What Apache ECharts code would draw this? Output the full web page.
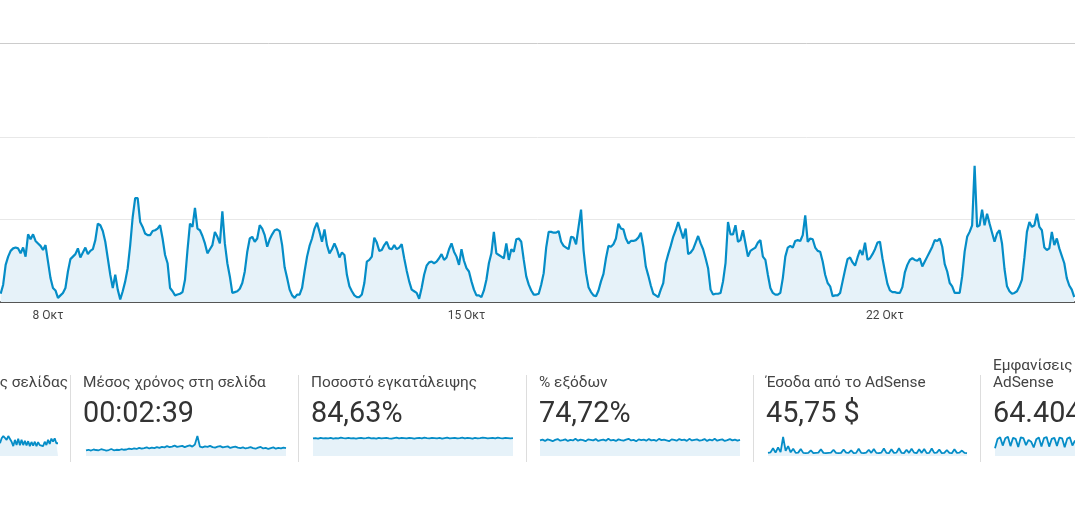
<!DOCTYPE html>
<html><head><meta charset="utf-8">
<script src="https://cdn.jsdelivr.net/npm/echarts@6/dist/echarts.min.js"></script>
<style>html,body{margin:0;padding:0;background:#fff;}#c{width:1075px;height:520px;}</style>
</head><body><div id="c"></div>
<script>
// ---- data ----
const firstHour = 5; // hours counted from 7 Oct 00:00
const pageviews = [
10,21,45,55,62,65,66,65,59,66, 55,82,76,82,74,71,68,63,69,49, 29,17,14,5,8,11,17,37,52,55,
58,65,54,60,66,58,62,64,75,95, 93,86,73,53,33,17,33,15,3,13, 25,41,69,103,126,126,97,91,83,81,
81,86,87,89,93,77,57,47,17,13, 8,9,10,
12,27,63,95,91,114,89,87,80,71, 59,64,69,85,79,71,110,71,47,31, 11,12,13,16,23,37,61,77,79,73,
77,93,89,81,67,76,82,87,88,86, 69,42,29,15,8,5,9,9,17,37, 55,68,77,89,96,85,73,88,69,59,
64,71,64,54,60,57,33,19,13,8, 6,6,
9,23,49,51,55,78,72,62,63,69, 73,65,64,69,64,66,70,53,38,25, 15,13,11,4,17,33,44,48,49,47,
49,53,58,51,54,64,71,61,55,45, 64,50,41,37,25,15,8,8,6,14, 27,47,59,85,59,57,55,53,71,51,
64,61,76,77,73,51,31,21,14,9, 9,10,
21,35,66,85,85,84,84,86,73,68, 66,64,79,78,70,91,112,63,35,18, 12,8,7,14,25,34,53,68,67,70,
77,95,89,88,77,71,74,74,75,78, 84,67,43,32,20,10,8,6,15,23, 47,58,68,79,87,97,87,77,89,58,
60,64,72,80,71,64,53,41,15,9, 10,10,
11,25,47,97,82,82,93,73,75,87, 71,55,62,64,66,72,75,55,51,33, 17,11,9,9,11,29,55,66,68,66,
74,75,74,81,105,73,77,76,66,62, 61,49,33,23,19,7,8,8,11,25, 39,52,54,48,44,54,63,57,72,51,
53,58,64,72,73,53,37,22,14,12, 12,11,
11,18,36,45,51,53,51,50,53,43, 49,55,61,67,75,74,77,67,46,37, 23,19,11,11,11,31,61,79,85,93,
165,91,93,112,93,107,95,84,73,83, 87,71,40,19,13,10,11,13,19,27, 54,85,97,91,93,107,91,87,66,63,
65,85,69,77,65,56,47,29,20,15, 6
];
const tickHours = [24, 192, 360];
const tickLabels = ['8 Οκτ', '15 Οκτ', '22 Οκτ'];

const tileTitles = ['Προβολές σελίδας', 'Μέσος χρόνος στη σελίδα', 'Ποσοστό εγκατάλειψης', '% εξόδων', 'Έσοδα από το AdSense', 'Εμφανίσεις\nAdSense'];
const tileValues = ['', '00:02:39', '84,63%', '74,72%', '45,75 $', '64.404'];

const sparkPageviews = [49,68,77,72,62,77,72,55,38,62,42,66,41,62,42,58,41,57,38,54,40,55,38,53,42,49,38,55,42,62,46,67,55,68,49,49];
const sparkTimeOnPage = [22,24,21,25,23,22,26,24,21,23,27,22,24,23,26,24,
25,28,26,29,27,31,28,30,33,29,32,30,34,31,35,
33,38,34,36,40,35,37,39,34,38,41,36,44,77,
36,33,37,35,39,34,32,36,38,33,35,37,31,34,36,32,
30,33,29,31,34,30,28,32,35,29,31,27,30,33,28,31,29,32,30];
const sparkBounce = [68,69,67,70,68,69,68,70,67,69,68,71,69,68,70,68,69,67,69,70,68,69,71,68,69,67,70,68,69,70,68,67,69,71,68,70,69,68,70,69,67,69,70,68,71,69,68,70,69,68,70,67,69,71,68,69,70,68,69,71,68,70,69,67,70,68,69,71,70,68,69,70,68,71,69,68,70,69,68,69];
const sparkExit = [60,63,58,64,61,57,62,65,59,61,64,58,62,60,66,59,63,61,57,64,62,60,65,58,61,63,59,66,60,62,58,64,61,59,63,66,60,62,57,64,61,63,59,65,60,62,58,66,61,63,60,57,64,62,59,65,61,63,58,66,60,62,64,59,61,65,58,63,60,66,59,62,64,58,61,65,60,63,59,62];
const sparkRevenue = [12,14,30,13,33,15,73,20,38,14,28,12,13,27,12,11,12,22,11,12,13,26,12,11,12,13,24,12,11,12,25,13,12,22,11,12,28,12,11,13,24,12,27,12,11,13,29,12,11,26,12,13,30,12,11,24,12,28,13,11,26,12,27,11,12,29,12,13,25,11,12,23,12,11,26,12,13,21,12,11];
const sparkImpressions = [30,65,72,40,68,74,38,70,66,35,72,69,42,62,55,33,64,71,37,69,73,36,66,70,39,71,68,34,67,72,40,60];

// ---- layout / style ----
const BLUE = '#058dc7';
const FILL = '#e6f2f9';
const sepX = [70, 298, 526, 753, 980];
const sparkBoxes = [[0, 58], [86, 200], [313, 200], [540, 200], [768, 199], [995, 80]];
const sparkData = [sparkPageviews, sparkTimeOnPage, sparkBounce, sparkExit, sparkRevenue, sparkImpressions];

const chart = echarts.init(document.getElementById('c'), null, {renderer: 'canvas'});

const grids = [{left: 0, right: 0, top: 137, height: 165}];
const xAxes = [{
  type: 'value', gridIndex: 0, min: 4.73, max: 436.3,
  axisLine: {show: true, onZero: false, lineStyle: {color: '#555', width: 2}},
  axisTick: {show: false},
  splitLine: {show: false},
  axisLabel: {
    customValues: tickHours,
    formatter: v => tickLabels[tickHours.indexOf(Math.round(v))] || '',
    color: '#444', fontSize: 12, fontFamily: 'Roboto', margin: 8
  }
}];
const yAxes = [{
  type: 'value', gridIndex: 0, min: 0, max: 200, interval: 100,
  axisLine: {show: false}, axisTick: {show: false}, axisLabel: {show: false},
  splitLine: {lineStyle: {color: '#e8e8e8', width: 1}}
}];
const series = [{
  type: 'line', xAxisIndex: 0, yAxisIndex: 0,
  data: pageviews.map((v, i) => [firstHour + i, v]),
  showSymbol: false, symbol: 'none',
  lineStyle: {color: BLUE, width: 2.2},
  areaStyle: {color: FILL, opacity: 1},
  z: 3
}];

sparkData.forEach((d, k) => {
  const [l, w] = sparkBoxes[k];
  grids.push({left: l, width: w, top: 430, height: 26});
  xAxes.push({type: 'category', gridIndex: k + 1, boundaryGap: false, data: d.map((_, i) => i), show: false});
  yAxes.push({type: 'value', gridIndex: k + 1, min: 0, max: 100, show: false, splitLine: {show: false}});
  series.push({
    type: 'line', xAxisIndex: k + 1, yAxisIndex: k + 1, data: d,
    showSymbol: false, symbol: 'none',
    lineStyle: {color: BLUE, width: 1.8},
    areaStyle: {color: FILL, opacity: 1}
  });
});

const graphics = [
  {type: 'line', shape: {x1: 0, y1: 43.5, x2: 1075, y2: 43.5}, style: {stroke: '#cccccc', lineWidth: 1}, silent: true}
];
sepX.forEach(x => graphics.push({type: 'line', shape: {x1: x + 0.5, y1: 375, x2: x + 0.5, y2: 462}, style: {stroke: '#dddddd', lineWidth: 1}, silent: true}));

function txt(text, x, y, size, color, align) {
  return {type: 'text', x: x, y: y, silent: true,
    style: {text: text, fill: color, font: size + 'px Roboto', fontSize: size, fontFamily: 'Roboto',
      align: align || 'left', verticalAlign: 'middle', textAlign: align || 'left', textVerticalAlign: 'middle'}};
}
const TITLE_SIZE = 15.4;
const VALUE_SIZE = 28.8;
// tile 1 (cut off at the left edge)
graphics.push(txt(tileTitles[0], 68, 383, TITLE_SIZE, '#444', 'right'));
for (let k = 1; k < 6; k++) {
  const x = sepX[k - 1] + 13;
  if (k === 5) {
    const parts = tileTitles[k].split('\n');
    graphics.push(txt(parts[0], x, 366, TITLE_SIZE, '#444'));
    graphics.push(txt(parts[1], x, 383, TITLE_SIZE, '#444'));
  } else {
    graphics.push(txt(tileTitles[k], x, 383, TITLE_SIZE, '#444'));
  }
  graphics.push(txt(tileValues[k], x, 415, VALUE_SIZE, '#333'));
}

chart.setOption({
  animation: false,
  backgroundColor: '#ffffff',
  grid: grids, xAxis: xAxes, yAxis: yAxes, series: series,
  graphic: graphics
});
</script></body></html>
